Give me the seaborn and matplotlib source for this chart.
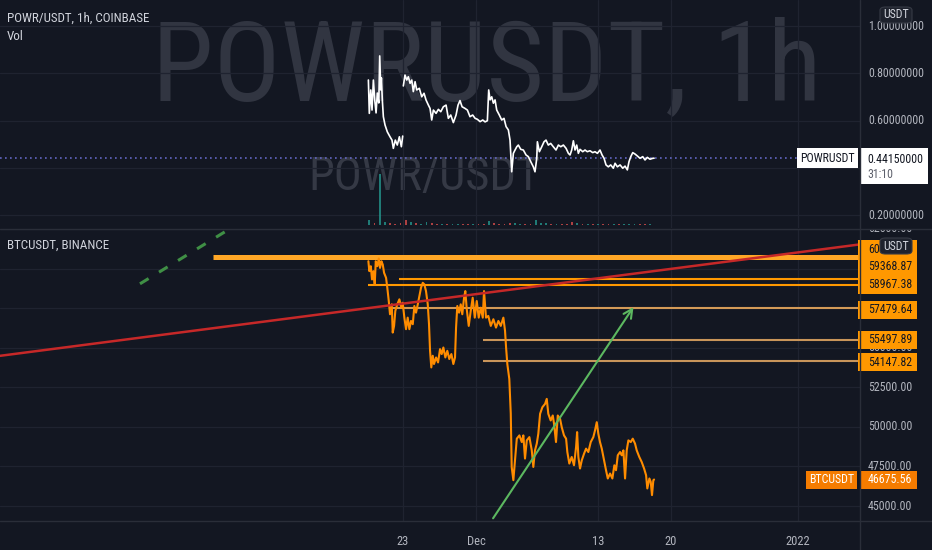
import matplotlib
matplotlib.use("Agg")
import matplotlib.pyplot as plt
import matplotlib.transforms as mtrans
from matplotlib.patches import Rectangle, FancyBboxPatch
from matplotlib.lines import Line2D
from matplotlib import font_manager
import pandas as pd
import seaborn as sns

# ---------------------------------------------------------------- data
# x coordinate: position on the chart's bar axis, in days counted from 1 Nov 2021
time_ticks = [22.9, 30.0, 41.7, 48.7, 60.9]
time_labels = ["23", "Dec", "13", "20", "2022"]

# POWR/USDT 1h close (two stretches, a feed gap between them)
powr_day_a = [19.61, 19.70, 19.84, 19.96, 20.09, 20.22, 20.35, 20.47, 20.61, 20.70,
              20.80, 20.86, 20.95, 21.05, 21.21, 21.43, 21.69, 21.88, 22.01, 22.20,
              22.39, 22.59, 22.78, 22.91]
powr_price_a = [0.772, 0.631, 0.730, 0.645, 0.772, 0.688, 0.633, 0.717, 0.675, 0.874,
                0.730, 0.781, 0.688, 0.617, 0.582, 0.553, 0.532, 0.518, 0.483, 0.518,
                0.497, 0.532, 0.490, 0.535]
powr_day_b = [22.97, 23.13, 23.30, 23.45, 23.62, 23.78, 23.93, 24.10, 24.26, 24.51,
              24.74, 24.96, 25.15, 25.38, 25.54, 25.70, 25.86, 26.12, 26.34, 26.57,
              26.82, 27.08, 27.30, 27.53, 27.78, 28.04, 28.23, 28.42, 28.62, 28.90,
              29.13, 29.38, 29.64, 29.87, 30.09, 30.35, 30.61, 30.83, 31.05, 31.18,
              31.31, 31.47, 31.63, 31.79, 31.95, 32.20, 32.43, 32.65, 32.85, 33.07,
              33.23, 33.39, 33.55, 33.71, 33.88, 34.03, 34.26, 34.51, 34.77, 34.99,
              35.22, 35.47, 35.63, 35.80, 35.86, 36.05, 36.28, 36.50, 36.69, 36.91,
              37.14, 37.39, 37.65, 37.88, 38.11, 38.36, 38.62, 38.84, 39.00, 39.16,
              39.32, 39.48, 39.64, 39.80, 39.96, 40.22, 40.44, 40.66, 40.92, 41.18,
              41.40, 41.63, 41.88, 42.08, 42.27, 42.46, 42.68, 42.91, 43.16, 43.33,
              43.55, 43.81, 44.07, 44.29, 44.51, 44.67, 44.84, 45.03, 45.25, 45.47,
              45.73, 45.99, 46.21, 46.43, 46.69, 46.95, 47.08]
powr_price_b = [0.747, 0.793, 0.772, 0.786, 0.758, 0.772, 0.723, 0.765, 0.730, 0.737,
                0.701, 0.716, 0.688, 0.666, 0.652, 0.603, 0.645, 0.631, 0.648, 0.638,
                0.659, 0.666, 0.610, 0.624, 0.592, 0.624, 0.666, 0.685, 0.659, 0.652,
                0.645, 0.617, 0.624, 0.610, 0.606, 0.596, 0.603, 0.595, 0.600, 0.730,
                0.688, 0.701, 0.674, 0.688, 0.645, 0.624, 0.603, 0.610, 0.575, 0.561,
                0.518, 0.384, 0.462, 0.476, 0.490, 0.497, 0.479, 0.476, 0.455, 0.448,
                0.427, 0.405, 0.384, 0.441, 0.511, 0.469, 0.490, 0.511, 0.518, 0.497,
                0.504, 0.490, 0.476, 0.497, 0.490, 0.497, 0.483, 0.462, 0.455, 0.476,
                0.515, 0.476, 0.497, 0.462, 0.479, 0.469, 0.476, 0.469, 0.473, 0.465,
                0.469, 0.462, 0.476, 0.455, 0.441, 0.413, 0.405, 0.413, 0.399, 0.420,
                0.405, 0.413, 0.399, 0.408, 0.392, 0.427, 0.448, 0.465, 0.459, 0.451,
                0.441, 0.448, 0.434, 0.445, 0.437, 0.441, 0.4415]
powr_last = 0.4415

# POWR volume (thousand POWR) and candle direction
vol_day = [19.7, 20.2, 20.7, 21.2, 21.7, 22.2, 22.7, 23.2, 23.7, 24.2, 24.7, 25.2,
           25.7, 26.2, 26.7, 27.2, 27.7, 28.2, 28.7, 29.2, 29.7, 30.2, 30.7, 31.2,
           31.7, 32.2, 32.7, 33.2, 33.7, 34.2, 34.7, 35.2, 35.7, 36.2, 36.7, 37.2,
           37.7, 38.2, 38.7, 39.2, 39.7, 40.2, 40.7, 41.2, 41.7, 42.2, 42.7, 43.2,
           43.7, 44.2, 44.7, 45.2, 45.7, 46.2, 46.7]
vol_value = [4, 2, 45, 3, 1.5, 1, 2, 4.5, 3, 1.5, 1, 3,
             1.5, 1, 0.8, 1, 0.8, 1.2, 0.8, 0.7, 0.8, 0.7, 1, 3.5,
             1.5, 1, 1.2, 1.8, 1.5, 1, 0.8, 1, 4, 2, 1.5, 1,
             0.8, 0.7, 1, 2.5, 1.5, 0.8, 0.7, 0.6, 0.7, 1, 0.8, 0.6,
             0.6, 0.7, 1.2, 0.8, 0.6, 0.7, 0.6]
vol_up = [1, 0, 1, 1, 0, 0, 0, 0, 1, 0, 1, 1,
          0, 0, 1, 0, 1, 1, 0, 0, 1, 0, 0, 1,
          0, 0, 0, 0, 1, 1, 0, 0, 1, 1, 1, 0,
          1, 0, 0, 0, 1, 0, 1, 0, 1, 0, 0, 1,
          0, 1, 1, 1, 0, 0, 1]

# BTCUSDT 1h close
btc_day = [19.61, 19.70, 19.84, 19.96, 20.09, 20.22, 20.32, 20.47, 20.61, 20.73,
           20.86, 20.99, 21.12, 21.31, 21.43, 21.57, 21.69, 21.86, 21.95, 22.08,
           22.20, 22.39, 22.59, 22.78, 22.91, 23.07, 23.23, 23.39, 23.55, 23.71,
           23.88, 24.03, 24.19, 24.36, 24.51, 24.67, 24.84, 24.99, 25.15, 25.32,
           25.44, 25.54, 25.66, 25.80, 25.92, 26.12, 26.31, 26.50, 26.66, 26.82,
           27.01, 27.20, 27.39, 27.59, 27.78, 27.94, 28.04, 28.16, 28.33, 28.49,
           28.64, 28.81, 28.93, 29.07, 29.26, 29.45, 29.64, 29.84, 30.03, 30.22,
           30.41, 30.61, 30.73, 30.92, 31.14, 31.38, 31.63, 31.88, 32.11, 32.34,
           32.59, 32.75, 32.85, 32.97, 33.16, 33.30, 33.39, 33.55, 33.71, 33.88,
           34.13, 34.36, 34.51, 34.67, 34.84, 35.09, 35.32, 35.47, 35.63, 35.80,
           35.95, 36.12, 36.34, 36.60, 36.76, 36.91, 37.14, 37.34, 37.46, 37.65,
           37.82, 38.04, 38.20, 38.42, 38.62, 38.74, 38.93, 39.16, 39.38, 39.58,
           39.68, 39.80, 39.96, 40.13, 40.35, 40.54, 40.76, 40.99, 41.24, 41.40,
           41.57, 41.72, 41.88, 42.05, 42.27, 42.46, 42.63, 42.85, 43.07, 43.26,
           43.42, 43.59, 43.81, 43.97, 44.13, 44.29, 44.45, 44.61, 44.84, 45.03,
           45.25, 45.41, 45.66, 45.89, 46.12, 46.31, 46.43, 46.63, 46.76, 46.88,
           47.01, 47.08]
btc_price = [60466, 59837, 60151, 59315, 59837, 59001, 60466, 60151, 60635, 60044,
             60466, 60258, 59730, 59416, 58787, 57951, 57115, 57743, 55958, 56379,
             57322, 57743, 58058, 57530, 57844, 56901, 56172, 56901, 56172, 56693,
             56486, 57636, 57215, 57743, 58265, 58787, 59101, 59001, 58580, 57743,
             56486, 54807, 53757, 54493, 53971, 54386, 54072, 54914, 54600, 55015,
             54386, 54807, 54286, 54600, 53971, 54386, 56272, 57636, 57215, 57743,
             57115, 58158, 58580, 57429, 56379, 57322, 58158, 56901, 57951, 56901,
             57530, 56901, 58580, 56901, 57008, 56379, 56800, 56272, 56693, 56379,
             56901, 56065, 55015, 53971, 53028, 50847, 47470, 46634, 47892, 49256,
             49463, 49042, 49463, 47999, 49149, 49356, 48520, 47470, 48520, 48942,
             49570, 50828, 51243, 51456, 51771, 50828, 50406, 50721, 50199, 49042,
             50721, 50513, 49985, 49463, 49256, 48413, 47684, 48099, 47577, 48728,
             49671, 48099, 47370, 47892, 48313, 48627, 48413, 49042, 49356, 49778,
             50300, 49570, 49042, 48627, 47892, 47263, 46741, 47056, 46741, 47577,
             47263, 48206, 48413, 48206, 48520, 46741, 48520, 49149, 49042, 49256,
             48942, 48520, 48099, 47785, 47370, 46949, 46112, 46741, 46527, 45691,
             46634, 46675.56]
btc_last = 46675.56

# horizontal price levels drawn on the BTC pane and the day each one starts
btc_levels = [60740.00, 59368.87, 58967.38, 57479.64, 55497.89, 54147.82]
btc_level_start = [4.7, 22.6, 19.6, 21.6, 30.6, 30.6]

# trend lines (day, price)
red_trend_day = [-15.8, 66.9]
red_trend_price = [54490, 61530]
green_dash_day = [-2.35, 6.4]
green_dash_price = [59038, 62559]
arrow_day = [31.6, 45.1]
arrow_price = [44226, 57573]

powr_ticks = [0.2, 0.4, 0.6, 0.8, 1.0]
btc_ticks = [45000, 47500, 50000, 52500, 55000, 57500, 60000, 62500]

# ---------------------------------------------------------------- style
BG = "#131722"
GRID = "#1f2330"
BORDER = "#2a2e39"
AXTXT = "#b2b5be"
TXT = "#d1d4dc"

sns.set_theme(style="dark", rc={"axes.facecolor": BG, "figure.facecolor": BG})
installed = {f.name for f in font_manager.fontManager.ttflist}
NARROW = "Roboto Condensed" in installed
plt.rcParams["font.family"] = (["Roboto Condensed", "DejaVu Sans"] if NARROW
                               else ["Roboto", "DejaVu Sans"])
FS = 8.6 if NARROW else 7.6          # scale / label text
FT = 9.4 if NARROW else 8.2          # pane titles
WM1 = 80 if NARROW else 70           # watermark
WM2 = 33.5 if NARROW else 29

W, H = 932, 550
fig = plt.figure(figsize=(W / 100, H / 100), dpi=100)


def rect(x0, y0, x1, y1):
    return [x0 / W, 1 - y1 / H, (x1 - x0) / W, (y1 - y0) / H]


ax_top = fig.add_axes(rect(0, 0, 860, 228))
ax_bot = fig.add_axes(rect(0, 229, 860, 521))
XMIN, XMAX = -15.81, 66.88
ax_top.set_xlim(XMIN, XMAX)
ax_bot.set_xlim(XMIN, XMAX)
ax_top.set_ylim(0.1463, 1.1104)
ax_bot.set_ylim(44056, 62415)

for ax, ticks in ((ax_top, powr_ticks), (ax_bot, btc_ticks)):
    ax.set_facecolor(BG)
    ax.set_yticks(ticks)
    ax.set_xticks(time_ticks)
    ax.grid(True, color=GRID, lw=0.9)
    ax.tick_params(length=0, labelleft=False)
    for s in ax.spines.values():
        s.set_visible(False)
ax_top.tick_params(labelbottom=False)
ax_bot.set_xticklabels(time_labels, color=AXTXT, fontsize=FS + 0.4)
ax_bot.tick_params(axis="x", pad=10)

# ---------------------------------------------------------------- top pane
ax_top.text(487 / W, 1 - 100 / H, "POWRUSDT, 1h", transform=fig.transFigure,
            ha="center", va="baseline", fontsize=WM1, color="#313541", zorder=0.5)
ax_top.text(425 / W, 1 - 190 / H, "POWR/USDT", transform=fig.transFigure,
            ha="center", va="baseline", fontsize=WM2, color="#353945", zorder=0.5)

powr_df = pd.DataFrame({
    "day": powr_day_a + powr_day_b,
    "price": powr_price_a + powr_price_b,
    "seg": [0] * len(powr_day_a) + [1] * len(powr_day_b),
})
sns.lineplot(data=powr_df, x="day", y="price", units="seg", estimator=None,
             sort=False, color="white", lw=1.2, ax=ax_top, legend=False, zorder=3)
ax_top.axhline(powr_last, color="#6266c2", ls=(0, (1, 2)), lw=1.2, zorder=2)
ax_top.set_xlabel("")
ax_top.set_ylabel("")

vax = ax_top.twinx()
vax.set_ylim(-2.7, 200)
vax.bar(vol_day, vol_value, width=0.18, edgecolor="none", linewidth=0,
        color=["#26a69a" if u else "#ef5350" for u in vol_up], alpha=0.7, zorder=2)
vax.set_axis_off()

# ---------------------------------------------------------------- bottom pane
sns.lineplot(x=btc_day, y=btc_price, estimator=None, sort=False,
             color="#ff8c00", lw=1.5, ax=ax_bot, zorder=4)
ax_bot.set_xlabel("")
ax_bot.set_ylabel("")

level_colors = ["#ffa726", "#ff9800", "#ff9800", "#d39a57", "#c9955a", "#c9955a"]
level_widths = [3.6, 1.5, 1.5, 1.5, 1.5, 1.5]
for v, x0, c, lw in zip(btc_levels, btc_level_start, level_colors, level_widths):
    ax_bot.plot([x0, XMAX], [v, v], color=c, lw=lw, zorder=3, solid_capstyle="butt")

ax_bot.plot(red_trend_day, red_trend_price, color="#c62828", lw=1.8, zorder=5)
ax_bot.plot(green_dash_day, green_dash_price, color="#3f8f45", lw=2.2,
            ls=(0, (3.3, 4)), zorder=5)
ax_bot.annotate("", xy=(arrow_day[1], arrow_price[1]),
                xytext=(arrow_day[0], arrow_price[0]),
                arrowprops=dict(arrowstyle="->", color="#5cb860", lw=1.5,
                                mutation_scale=16, shrinkA=0, shrinkB=0),
                zorder=5, annotation_clip=False)

# ---------------------------------------------------------------- price scales
sc_top = fig.add_axes(rect(860, 0, 932, 228))
sc_bot = fig.add_axes(rect(860, 229, 932, 521))
sc_top.set_ylim(ax_top.get_ylim())
sc_bot.set_ylim(ax_bot.get_ylim())
for sc in (sc_top, sc_bot):
    sc.set_facecolor(BG)
    sc.set_xlim(0, 1)
    sc.set_xticks([])
    sc.set_yticks([])
    for s in sc.spines.values():
        s.set_visible(False)


def ftrans(ax):
    return mtrans.blended_transform_factory(fig.transFigure, ax.transData)


def px_per_unit(ax):
    lo, hi = ax.get_ylim()
    return ax.get_position().height * H / (hi - lo)


for v in powr_ticks:
    sc_top.text(868 / W, v, f"{v:.8f}", transform=ftrans(sc_top), ha="left",
                va="center", fontsize=FS, color=AXTXT, clip_on=True)
for v in btc_ticks:
    sc_bot.text(868 / W, v, f"{v:.2f}", transform=ftrans(sc_bot), ha="left",
                va="center", fontsize=FS, color=AXTXT, clip_on=True)


def price_box(ax, value, x0, x1, top_px, bot_px, fc, zorder=6):
    k = px_per_unit(ax)
    ax.add_patch(Rectangle((x0 / W, value - bot_px / k), (x1 - x0) / W,
                           (top_px + bot_px) / k, transform=ftrans(ax),
                           facecolor=fc, edgecolor="none", clip_on=False,
                           zorder=zorder))


def box_text(ax, value, x, s, color, dy_px=0.0, ha="left"):
    k = px_per_unit(ax)
    ax.text(x / W, value + dy_px / k, s, transform=ftrans(ax), ha=ha, va="center",
            fontsize=FS, color=color, zorder=8, clip_on=False)


# level labels: the upper two are nudged up to clear their neighbours
label_shift = [7.5, 11.6, 0.0, -1.3, 0.0, -0.8]
for v, dy in zip(btc_levels, label_shift):
    k = px_per_unit(sc_bot)
    c = v + dy / k
    price_box(sc_bot, c, 858, 917, 9.2, 9.2, "#ff9800")
    box_text(sc_bot, c, 868, f"{v:.2f}", "#131722")

# last BTC price
price_box(sc_bot, btc_last, 860, 917, 9, 9, "#f57c00")
box_text(sc_bot, btc_last, 868, f"{btc_last:.2f}", "white")
price_box(sc_bot, btc_last, 806, 857, 9, 9, "#f57c00")
box_text(sc_bot, btc_last, 831.5, "BTCUSDT", "white", ha="center")

# last POWR price
price_box(sc_top, powr_last, 797, 858, 9.7, 9.7, "white")
box_text(sc_top, powr_last, 827.5, "POWRUSDT", "#131722", ha="center")
price_box(sc_top, powr_last, 860, 928, 9.7, 25.5, "white")
box_text(sc_top, powr_last, 867, f"{powr_last:.8f}", "#131722", dy_px=-1)
box_text(sc_top, powr_last, 867, "31:10", "#5d606b", dy_px=-16)

# currency badges on each scale
for sc, yc in ((sc_top, 15), (sc_bot, 246)):
    sc.add_artist(FancyBboxPatch((880 / W, 1 - (yc + 8) / H), 32 / W, 16 / H,
                                 boxstyle="round,pad=0,rounding_size=0.006",
                                 transform=fig.transFigure, facecolor="#1e222d",
                                 edgecolor="#363a45", lw=0.8, clip_on=False,
                                 zorder=9))
    sc.text(896 / W, 1 - yc / H, "USDT", transform=fig.transFigure, ha="center",
            va="center", fontsize=FS, color=TXT, zorder=10, clip_on=False)

# ---------------------------------------------------------------- frame & titles
for (xs, ys) in (([0, 932], [228.5, 228.5]), ([860, 860], [0, 550]),
                 ([0, 932], [521, 521])):
    fig.add_artist(Line2D([x / W for x in xs], [1 - y / H for y in ys],
                          color=BORDER, lw=1.0, zorder=20))

fig.text(7 / W, 1 - 18 / H, "POWR/USDT, 1h, COINBASE", fontsize=FT, color=TXT,
         va="center", ha="left")
fig.text(7 / W, 1 - 37 / H, "Vol", fontsize=FT, color=TXT, va="center", ha="left")
fig.text(7 / W, 1 - 245 / H, "BTCUSDT, BINANCE", fontsize=FT, color=TXT,
         va="center", ha="left")

fig.savefig("out.png", dpi=100, facecolor=BG)
